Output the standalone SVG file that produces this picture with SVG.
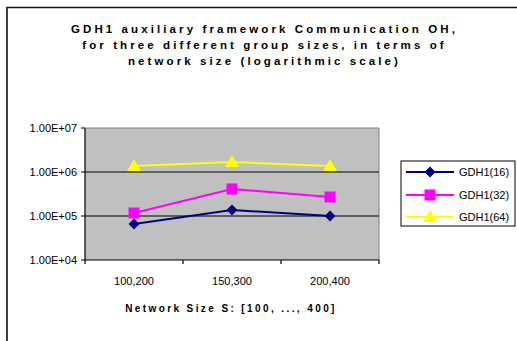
<svg xmlns="http://www.w3.org/2000/svg" width="517" height="341" viewBox="0 0 517 341">
  <style>
    .lbl { font-family: "Liberation Sans", Arial, sans-serif; font-size: 11px; fill: #000; }
    .ttl { font-family: "Liberation Sans", Arial, sans-serif; font-size: 11.5px; font-weight: bold; fill: #000; letter-spacing: 3.1px; }
    .axt { font-family: "Liberation Sans", Arial, sans-serif; font-size: 10px; font-weight: bold; fill: #000; letter-spacing: 2.4px; }
    .s16 { stroke: #000080; stroke-width: 2; fill: none; }
    .s32 { stroke: #FF00FF; stroke-width: 2; fill: none; }
    .s64 { stroke: #FFFF00; stroke-width: 2; fill: none; }
  </style>
  <defs>
    <path id="dia" d="M0,-5.5 L5.5,0 L0,5.5 L-5.5,0 Z" fill="#000080"/>
    <rect id="sq" x="-5.5" y="-5.5" width="11" height="11" fill="#FF00FF"/>
    <path id="tri" d="M0,-7 L7,5 L-7,5 Z" fill="#FFFF00"/>
  </defs>

  <!-- chart frame -->
  <rect width="517" height="341" fill="#fff"/>
  <path d="M7,341 V7.5 H517" fill="none" stroke="#111" stroke-width="1.6"/>

  <!-- title -->
  <g id="title" text-anchor="middle">
    <text class="ttl" x="264.5" y="33">GDH1 auxiliary framework Communication OH,</text>
    <text class="ttl" x="264.5" y="49">for three different group sizes, in terms of</text>
    <text class="ttl" x="264.5" y="65">network size (logarithmic scale)</text>
  </g>

  <!-- plot area -->
  <g id="plot">
    <rect x="85" y="128" width="294" height="132" fill="#C0C0C0"/>
    <path d="M85,128 H379 V260" fill="none" stroke="#808080" stroke-width="1"/>
    <path d="M85,172 H379 M85,216 H379" stroke="#000" stroke-width="1"/>
  </g>

  <!-- axes -->
  <g id="axes" stroke="#000" stroke-width="1.2" fill="none">
    <path d="M85,128 V260 H379"/>
    <path d="M81,128 H85 M81,172 H85 M81,216 H85 M81,260 H85"/>
    <path d="M85,260 V264 M183,260 V264 M281,260 V264 M379,260 V264"/>
  </g>

  <g id="y-labels" class="lbl" text-anchor="end">
    <text x="77" y="132">1.00E+07</text>
    <text x="77" y="176">1.00E+06</text>
    <text x="77" y="220">1.00E+05</text>
    <text x="77" y="264">1.00E+04</text>
  </g>
  <g id="x-labels" class="lbl" text-anchor="middle">
    <text x="134" y="285">100,200</text>
    <text x="232" y="285">150,300</text>
    <text x="330" y="285">200,400</text>
  </g>
  <text id="x-title" class="axt" x="231" y="312" text-anchor="middle">Network Size S: [100, ..., 400]</text>

  <!-- data series -->
  <g id="connectors">
    <polyline class="s64" points="134,166 232,162 330,166"/>
    <polyline class="s32" points="134,213 232,189 330,197"/>
    <polyline class="s16" points="134,224 232,210 330,216"/>
  </g>
  <g id="series-64">
    <use href="#tri" x="134" y="166"/>
    <use href="#tri" x="232" y="162"/>
    <use href="#tri" x="330" y="166"/>
  </g>
  <g id="series-32">
    <use href="#sq" x="134" y="213"/>
    <use href="#sq" x="232" y="189"/>
    <use href="#sq" x="330" y="197"/>
  </g>
  <g id="series-16">
    <use href="#dia" x="134" y="224"/>
    <use href="#dia" x="232" y="210"/>
    <use href="#dia" x="330" y="216"/>
  </g>

  <!-- legend -->
  <g id="legend">
    <rect x="401" y="161" width="114" height="65" fill="#fff" stroke="#000" stroke-width="1"/>
    <path class="s16" d="M406,172 H454"/>
    <use href="#dia" x="430" y="172"/>
    <text class="lbl" x="459" y="176">GDH1(16)</text>
    <path class="s32" d="M406,195 H454"/>
    <use href="#sq" x="430" y="195"/>
    <text class="lbl" x="459" y="199">GDH1(32)</text>
    <path class="s64" d="M406,217 H454"/>
    <use href="#tri" x="430" y="217"/>
    <text class="lbl" x="459" y="221">GDH1(64)</text>
  </g>
</svg>
